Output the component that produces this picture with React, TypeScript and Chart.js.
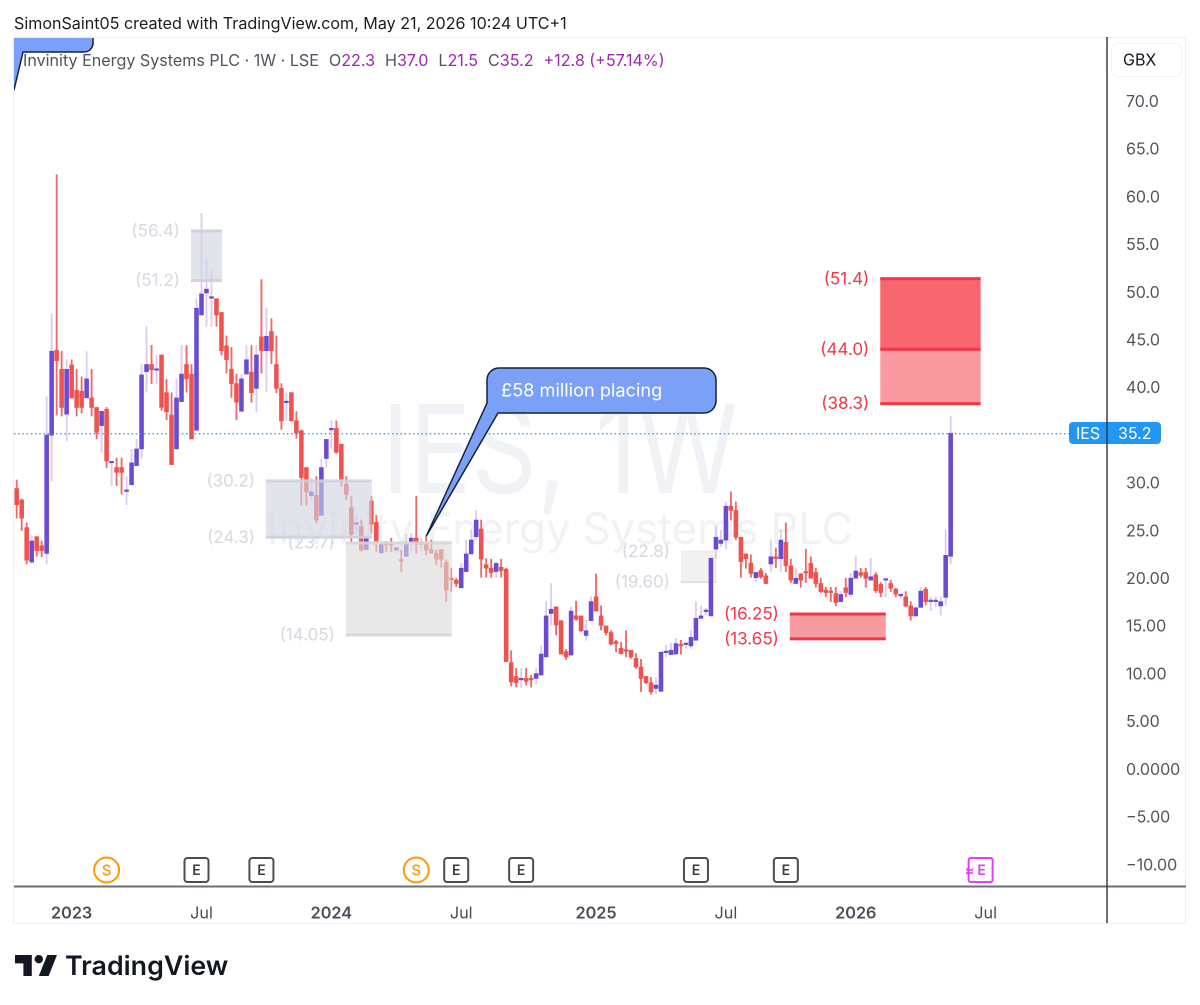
import React, { useEffect, useRef } from "react";
import { Chart, registerables } from "chart.js";

Chart.register(...registerables);

// Weekly candles, oldest first (one row per week: open, high, low, close)
const opens = [29.4,28.2,25.3,21.7,24.35,23.4,22.6,35.0,43.9,41.9,37.2,42.35,39.7,39.6,38.9,38.9,37.9,36.0,37.7,32.1,31.6,31.6,29.1,29.8,31.8,33.55,41.65,42.4,41.8,43.4,39.45,37.1,33.55,38.5,42.4,41.4,35.5,47.6,49.9,49.35,49.3,47.85,44.35,41.9,40.4,37.5,41.4,41.6,39.9,45.3,43.85,45.85,42.4,39.9,38.4,39.45,36.5,35.45,31.6,28.65,28.7,26.6,32.55,35.55,35.7,34.05,29.85,27.4,25.65,25.4,23.0,28.1,25.85,22.65,23.6,23.6,22.95,21.85,22.3,23.85,24.2,23.55,23.6,23.0,22.6,23.0,21.65,19.9,19.8,19.0,20.7,22.55,24.35,25.15,21.4,21.05,20.7,21.15,20.95,11.15,9.7,9.35,9.5,9.45,9.5,9.85,11.75,16.3,17.0,15.55,12.3,11.95,16.05,16.05,14.0,15.55,18.05,16.05,15.0,14.3,13.35,12.65,12.5,12.45,11.6,10.7,9.7,9.05,8.45,8.15,12.2,12.0,12.05,12.95,13.05,12.9,13.5,15.8,16.5,16.05,23.05,23.65,24.0,27.55,27.1,24.3,22.55,21.6,20.05,20.8,20.25,21.5,22.25,22.05,23.75,21.3,19.45,20.45,20.7,21.55,20.6,19.45,18.75,18.6,18.4,17.55,19.0,18.3,20.0,20.6,20.6,19.8,20.35,19.35,19.8,19.45,18.85,18.15,18.05,17.1,16.05,16.95,18.85,17.55,17.55,17.1,18.0,22.3];
const highs = [30.3,28.3,25.8,24.5,24.35,23.9,39.0,47.7,62.3,43.8,42.9,42.9,41.9,41.1,43.75,41.9,37.9,37.5,37.9,32.2,32.6,32.6,30.65,33.5,34.55,42.4,46.4,44.4,43.4,43.4,40.85,39.45,40.9,44.4,44.4,42.4,49.3,58.25,53.4,52.3,49.3,47.85,45.4,44.2,41.4,41.4,44.4,44.4,44.4,51.3,48.3,47.2,45.4,40.4,39.4,39.45,37.45,35.55,31.6,30.45,30.65,32.5,34.55,36.5,36.5,34.05,30.65,28.6,26.6,26.1,24.2,28.6,26.6,23.85,23.85,24.2,23.2,22.95,24.6,24.7,28.6,24.2,24.35,24.0,22.95,23.0,21.9,21.05,20.0,21.55,24.0,25.05,27.1,26.1,22.05,22.0,21.7,22.0,21.05,12.4,10.55,10.55,10.55,9.85,10.55,12.9,17.55,19.45,17.0,15.55,12.55,17.0,17.6,16.05,15.6,18.05,20.45,17.1,15.0,14.5,13.5,13.25,14.5,12.45,12.1,11.5,9.7,9.6,9.6,12.25,13.0,13.15,13.7,13.5,13.15,14.55,17.55,17.1,16.85,22.1,25.45,25.05,28.0,29.05,28.0,24.3,22.55,22.45,20.6,21.05,20.5,24.0,23.15,25.05,25.8,22.0,21.05,20.5,23.05,22.25,21.05,20.0,19.05,19.05,19.05,18.6,20.0,20.5,22.25,21.05,21.05,22.1,20.6,19.55,19.9,19.8,18.95,18.4,18.6,17.55,17.0,19.05,19.05,18.05,18.05,18.05,25.05,37.0];
const lows = [26.3,25.0,21.5,21.5,22.3,22.25,21.5,30.2,37.1,37.0,34.4,38.9,37.0,37.3,38.9,37.0,34.6,33.2,31.6,29.7,29.7,28.8,27.7,29.8,31.8,32.6,39.5,40.4,40.4,37.6,36.6,31.9,33.55,38.5,39.5,34.6,35.5,47.6,46.4,46.4,46.4,43.4,41.5,38.95,36.6,37.5,41.4,38.45,37.45,41.5,39.55,42.5,39.45,35.6,36.5,36.5,34.65,27.65,27.65,28.2,25.75,26.6,31.6,33.6,33.1,29.65,28.2,23.8,24.7,22.85,22.95,24.7,22.8,22.65,22.8,22.8,22.95,20.7,22.25,22.8,22.6,22.8,22.4,22.6,21.4,21.15,17.55,18.6,19.1,19.0,20.7,22.55,24.0,20.1,20.1,20.1,20.1,20.1,11.25,8.7,8.6,8.55,8.8,8.6,8.95,9.85,11.75,15.1,14.05,12.05,11.5,11.95,15.6,14.4,13.5,15.55,16.55,14.55,14.05,13.0,12.3,12.05,11.75,11.6,10.55,8.1,8.95,7.85,7.9,8.1,11.75,12.0,12.05,12.05,12.65,12.65,13.5,15.8,16.15,16.05,22.05,23.3,23.05,26.1,24.05,20.1,21.05,20.1,19.65,20.0,19.45,20.7,21.1,20.7,20.7,19.55,19.45,19.05,19.55,20.0,19.05,18.5,18.05,17.55,17.1,17.55,18.05,18.05,20.0,20.1,19.05,19.8,18.5,18.05,18.05,18.6,18.05,17.9,17.0,15.6,15.95,16.95,17.2,16.6,17.0,16.15,17.2,21.5];
const closes = [27.7,26.3,21.9,23.9,22.9,22.9,35.0,43.8,42.8,37.9,41.9,38.9,37.9,37.9,40.9,37.9,35.3,37.5,32.3,32.2,31.1,31.1,29.2,32.1,33.55,41.3,42.4,41.85,41.85,37.9,37.45,31.9,38.9,41.4,40.9,34.6,48.3,49.8,50.3,49.45,47.6,43.85,42.9,40.4,38.45,40.9,42.9,39.45,43.4,43.85,45.35,43.85,39.9,36.5,38.55,36.5,35.2,30.55,29.05,29.05,26.1,31.6,34.55,35.65,33.2,30.4,28.8,24.6,25.75,22.95,24.2,25.65,23.9,23.55,23.5,23.5,23.2,21.8,23.55,24.2,23.55,23.6,22.95,22.65,22.0,22.0,18.75,19.85,19.45,21.05,22.55,24.0,26.1,22.0,21.05,20.6,21.55,20.8,11.25,9.15,9.05,9.45,9.2,9.35,10.0,12.05,16.05,16.75,15.1,12.05,11.75,16.55,15.7,14.5,14.5,17.55,16.55,15.05,14.3,13.1,13.15,12.1,12.35,11.75,10.7,9.5,9.05,8.1,8.8,12.25,12.3,12.45,13.15,12.9,13.15,13.8,15.8,16.05,16.65,22.1,24.3,24.0,27.55,27.1,24.3,21.75,22.05,20.5,20.6,20.15,19.45,22.25,22.05,24.0,21.3,19.8,20.0,19.8,20.55,20.0,19.45,18.6,18.5,18.5,17.45,18.3,18.5,20.0,20.75,20.3,20.0,20.15,18.7,18.5,19.9,18.95,18.35,18.25,17.1,16.05,16.9,18.65,17.55,17.6,17.6,17.55,22.4,35.2];

// Axes
const priceTicks = [70, 65, 60, 55, 50, 45, 40, 35, 30, 25, 20, 15, 10, 5, 0, -5, -10];
const priceLabels = ["70.0","65.0","60.0","55.0","50.0","45.0","40.0","","30.0","25.0","20.00","15.00","10.00","5.00","0.0000","\u22125.00","\u221210.00"];
const timeTicks = [11, 37, 63, 89, 116, 142, 168, 194];
const timeLabels = ["2023", "Jul", "2024", "Jul", "2025", "Jul", "2026", "Jul"];
const lastClose = 35.2;

// Event markers on the time axis (week numbers)
const splitWeeks = [18, 80];
const earningsWeeks = [36, 49, 88, 101, 136, 154];
const nextEarningsWeek = 193;

// Drawn zones: from week, to week, top price, bottom price, label strings
const greyFromWeek = [34.9, 49.9, 65.9];
const greyToWeek = [41.1, 71.1, 87.1];
const greyTop = [56.4, 30.2, 23.7];
const greyBottom = [51.2, 24.3, 14.05];
const greyTopText = ["(56.4)", "(30.2)", "(23.7)"];
const greyBottomText = ["(51.2)", "(24.3)", "(14.05)"];
const paleWeeks = [133, 140.2];
const palePrices = [22.8, 19.6];
const paleText = ["(22.8)", "(19.60)"];
const calloutTipWeek = 82;
const calloutTipPrice = 24.4;

const FONT = "Inter, 'Noto Sans', sans-serif";
const RED = "#ef5350";
const PURPLE = "#6a4bd2";
const RED_LINE = "#f23645";

const rr = (c: CanvasRenderingContext2D, x: number, y: number, w: number, h: number, r: number) => {
  c.beginPath();
  c.roundRect(x, y, w, h, r);
};

const overlay = {
  id: "overlay",
  beforeDatasetsDraw(chart: any) {
    const c = chart.ctx as CanvasRenderingContext2D;
    const X = (v: number) => chart.scales.x.getPixelForValue(v);
    const Y = (v: number) => chart.scales.y.getPixelForValue(v);
    c.save();
    c.fillStyle = "#f0f2f5";
    c.textAlign = "center";
    c.textBaseline = "alphabetic";
    c.font = `400 122px ${FONT}`;
    c.save();
    c.translate(560, 493);
    c.scale(0.84, 1);
    c.fillText("IES, 1W", 0, 0);
    c.restore();
    c.font = `400 43.5px ${FONT}`;
    c.fillText("Invinity Energy Systems PLC", 560, 544);

    // the pale zone sits behind the candles
    const l = X(paleWeeks[0]);
    const r = X(paleWeeks[1]);
    const t = Y(palePrices[0]);
    const b = Y(palePrices[1]);
    c.fillStyle = "#f1f1f1";
    c.fillRect(l, t, r - l, b - t);
    c.fillStyle = "#ececec";
    c.fillRect(l, t - 1, r - l, 2);
    c.fillStyle = "#e2e2e2";
    c.fillRect(l, b - 1, r - l, 2);
    c.textBaseline = "middle";
    c.textAlign = "right";
    c.font = `400 17px ${FONT}`;
    c.fillStyle = "#d6d8df";
    c.fillText(paleText[0], l - 11, t + 0.5);
    c.fillText(paleText[1], l - 11, b + 0.5);
    c.restore();
  },
  afterDatasetsDraw(chart: any) {
    const c = chart.ctx as CanvasRenderingContext2D;
    const x = chart.scales.x;
    const y = chart.scales.y;
    const X = (v: number) => x.getPixelForValue(v);
    const Y = (v: number) => y.getPixelForValue(v);
    c.save();
    c.textBaseline = "middle";
    c.textAlign = "right";
    c.font = `400 17px ${FONT}`;

    // last price line
    c.strokeStyle = "#2196f3";
    c.lineWidth = 1.2;
    c.setLineDash([1.5, 2.7]);
    c.beginPath();
    c.moveTo(14, Y(lastClose) + 0.5);
    c.lineTo(1107, Y(lastClose) + 0.5);
    c.stroke();
    c.setLineDash([]);

    // grey zones
    greyTop.forEach((top, i) => {
      const l = X(greyFromWeek[i]);
      const r = X(greyToWeek[i]);
      const t = Y(top);
      const b = Y(greyBottom[i]);
      const neutral = i >= 2;
      c.fillStyle = neutral ? "rgba(218,218,218,0.62)" : "rgba(209,212,224,0.62)";
      c.fillRect(l, t, r - l, b - t);
      c.fillStyle = neutral ? "rgba(214,214,214,0.9)" : "rgba(205,208,220,0.9)";
      c.fillRect(l, t - 1.5, r - l, 3);
      c.fillRect(l, b - 1.5, r - l, 3);
      c.fillStyle = "#d6d8df";
      c.fillText(greyTopText[i], l - 11, t + 0.5);
      c.fillText(greyBottomText[i], l - 11, b + 0.5);
    });

    // red zones
    const hard = (l: number, r: number, t: number, b: number, fill: string) => {
      c.fillStyle = fill;
      c.fillRect(X(l), Y(t), X(r) - X(l), Y(b) - Y(t));
    };
    hard(172.9, 193, 51.4, 44.0, "#f7676f");
    hard(172.9, 193, 44.0, 38.3, "#f99aa1");
    hard(154.8, 174, 16.25, 13.65, "#f99aa1");
    [[172.9, 193, 51.4, "(51.4)"], [172.9, 193, 44.0, "(44.0)"], [172.9, 193, 38.3, "(38.3)"], [154.8, 174, 16.25, "(16.25)"], [154.8, 174, 13.65, "(13.65)"]].forEach((z: any) => {
      c.fillStyle = RED_LINE;
      c.fillRect(X(z[0]), Y(z[2]) - 1.5, X(z[1]) - X(z[0]), 3);
      c.fillText(z[3], X(z[0]) - 11, Y(z[2]) + 0.5);
    });

    // callout balloons
    const tipX = X(calloutTipWeek);
    const tipY = Y(calloutTipPrice);
    c.fillStyle = "#7aa0f8";
    c.strokeStyle = "#14213d";
    c.lineWidth = 1.5;
    c.beginPath();
    c.moveTo(499, 368);
    c.lineTo(704, 368);
    c.arcTo(716, 368, 716, 380, 12);
    c.lineTo(716, 401);
    c.arcTo(716, 413, 704, 413, 12);
    c.lineTo(498, 413);
    c.lineTo(tipX, tipY);
    c.lineTo(487, 403);
    c.lineTo(487, 380);
    c.arcTo(487, 368, 499, 368, 12);
    c.closePath();
    c.fill();
    c.stroke();
    c.fillStyle = "#ffffff";
    c.textAlign = "left";
    c.font = `400 18.2px ${FONT}`;
    c.fillText("\u00a358 million placing", 501, 391);

    c.fillStyle = "#7aa0f8";
    c.beginPath();
    c.moveTo(14, 37);
    c.lineTo(93, 37);
    c.lineTo(93, 43);
    c.arcTo(93, 52, 84, 52, 9);
    c.lineTo(23, 52);
    c.lineTo(14, 90);
    c.closePath();
    c.fill();
    c.beginPath();
    c.moveTo(93, 37);
    c.lineTo(93, 43);
    c.arcTo(93, 52, 84, 52, 9);
    c.lineTo(23, 52);
    c.lineTo(14, 90);
    c.stroke();
    c.restore();
  },
  afterDraw(chart: any) {
    const c = chart.ctx as CanvasRenderingContext2D;
    const x = chart.scales.x;
    const X = (v: number) => x.getPixelForValue(v);
    c.save();
    c.textBaseline = "alphabetic";
    c.textAlign = "left";

    // frame and axis lines
    c.strokeStyle = "#eceef2";
    c.lineWidth = 1;
    c.strokeRect(13.5, 37.5, 1172, 886);
    c.fillStyle = "#6b6e78";
    c.fillRect(14, 885.5, 1172, 2);
    c.fillStyle = "#2f333f";
    c.fillRect(1106.3, 37, 1.4, 886);

    // header
    c.fillStyle = "#1c1c1f";
    c.font = `400 16.1px ${FONT}`;
    c.fillText("SimonSaint05 created with TradingView.com, May 21, 2026 10:24 UTC+1", 14, 29);

    // legend line
    c.font = `400 16.1px ${FONT}`;
    let lx = 23;
    const seg = (s: string, col: string, gap = 0) => {
      c.fillStyle = col;
      c.fillText(s, lx, 66);
      lx += c.measureText(s).width + gap;
    };
    const GREY = "#50535e";
    const VAL = "#9c27b0";
    seg("Invinity Energy Systems PLC \u00b7 1W \u00b7 LSE", GREY, 10);
    seg("O", GREY); seg("22.3", VAL, 10);
    seg("H", GREY); seg("37.0", VAL, 10);
    seg("L", GREY); seg("21.5", VAL, 10);
    seg("C", GREY); seg("35.2", VAL, 10);
    seg("+12.8 (+57.14%)", VAL);

    // currency button
    c.strokeStyle = "#f0f3fa";
    c.lineWidth = 1;
    rr(c, 1111.5, 43.5, 70, 33, 6);
    c.stroke();
    c.fillStyle = "#131722";
    c.font = `400 16px ${FONT}`;
    c.fillText("GBX", 1123, 65.5);

    // last price tag
    c.fillStyle = "#2196f3";
    rr(c, 1069, 422, 92, 22, 4);
    c.fill();
    c.fillStyle = "#2f333f";
    c.fillRect(1106.3, 422, 1.4, 22);
    c.fillStyle = "#ffffff";
    c.font = `400 16px ${FONT}`;
    c.fillText("IES", 1076, 439);
    c.fillText("35.2", 1118, 439);

    // event markers
    c.textAlign = "center";
    splitWeeks.forEach((w) => {
      c.strokeStyle = "#ff9800";
      c.lineWidth = 2;
      c.beginPath();
      c.arc(X(w), 870, 12.5, 0, Math.PI * 2);
      c.fillStyle = "#ffffff";
      c.fill();
      c.stroke();
      c.fillStyle = "#ff9800";
      c.font = `500 15px ${FONT}`;
      c.fillText("S", X(w), 875.5);
    });
    earningsWeeks.forEach((w) => {
      c.strokeStyle = "#4a4c52";
      c.lineWidth = 2;
      rr(c, X(w) - 12, 858, 24, 24, 3);
      c.fillStyle = "#ffffff";
      c.fill();
      c.stroke();
      c.fillStyle = "#3a3c42";
      c.font = `600 14px ${FONT}`;
      c.fillText("E", X(w), 875);
    });
    c.strokeStyle = "#e040fb";
    c.lineWidth = 2;
    rr(c, X(nextEarningsWeek) - 12, 858, 24, 24, 2);
    c.fillStyle = "#ffffff";
    c.fill();
    c.stroke();
    c.fillStyle = "#e040fb";
    c.font = `600 14px ${FONT}`;
    c.fillText("E", X(nextEarningsWeek) + 1, 875);
    c.fillText("\u2248", X(nextEarningsWeek) - 11, 875);

    // TradingView logo
    c.fillStyle = "#131722";
    c.save();
    c.translate(12.2, 946.6);
    c.scale(1.4, 1.4);
    c.fill(new Path2D("M14 6H2v6h6v9h6V6zm12 15h-7l6-15h7l-6 15zm-7-9a3 3 0 1 0 0-6 3 3 0 0 0 0 6z"));
    c.restore();
    c.textAlign = "left";
    c.font = `600 26.8px ${FONT}`;
    c.fillText("TradingView", 65, 975);
    c.restore();
  },
};

export default function App() {
  const ref = useRef<HTMLCanvasElement>(null);
  useEffect(() => {
    const up = closes.map((v, i) => v >= opens[i]);
    const chart = new Chart(ref.current as HTMLCanvasElement, {
      type: "bar",
      data: {
        datasets: [
          {
            label: "Wick",
            data: lows.map((l, i) => ({ x: i, y: [l, highs[i]] })) as any,
            backgroundColor: up.map((u) => (u ? "#dccdf0" : "#ee6a68")),
            barThickness: 1.2,
            grouped: false,
            order: 2,
          } as any,
          {
            label: "Body",
            data: opens.map((o, i) => ({ x: i, y: [o, closes[i]] })) as any,
            backgroundColor: up.map((u) => (u ? PURPLE : RED)),
            barThickness: 3.9,
            minBarLength: 1.5,
            grouped: false,
            order: 1,
          } as any,
        ],
      },
      options: {
        responsive: false,
        animation: false,
        devicePixelRatio: 2,
        layout: { padding: { left: 14, top: 37, right: 14, bottom: 82 } },
        plugins: { legend: { display: false }, tooltip: { enabled: false }, title: { display: false } },
        scales: {
          x: {
            type: "linear",
            position: "bottom",
            offset: false,
            min: -0.54,
            max: 218.3,
            grid: { display: false },
            border: { display: false },
            afterFit: (s: any) => { s.height = 37; },
            afterBuildTicks: (s: any) => { s.ticks = timeTicks.map((value) => ({ value })); },
            ticks: {
              autoSkip: false,
              maxRotation: 0,
              padding: 10,
              color: "#4a4d59",
              font: (ctx: any) => {
                const label = timeLabels[timeTicks.indexOf(ctx.tick?.value)];
                return { family: FONT, size: 16.2, weight: label === "Jul" ? 400 : 600 };
              },
              callback: (v: any) => timeLabels[timeTicks.indexOf(v)] ?? "",
            },
          },
          y: {
            position: "right",
            min: -12.26,
            max: 76.73,
            grid: { display: false },
            border: { display: false },
            afterFit: (s: any) => { s.width = 79; },
            afterBuildTicks: (s: any) => { s.ticks = priceTicks.map((value) => ({ value })); },
            ticks: {
              autoSkip: false,
              padding: 11,
              labelOffset: 1,
              crossAlign: "near",
              color: "#50535e",
              font: { family: FONT, size: 16 },
              callback: (v: any) => priceLabels[priceTicks.indexOf(v)] ?? "",
            },
          },
        } as any,
      },
      plugins: [overlay as any],
    });
    return () => chart.destroy();
  }, []);
  return (
    <canvas
      ref={ref}
      width={1200}
      height={1005}
      style={{ position: "absolute", left: 0, top: 0, width: 1200, height: 1005, display: "block" }}
    />
  );
}
